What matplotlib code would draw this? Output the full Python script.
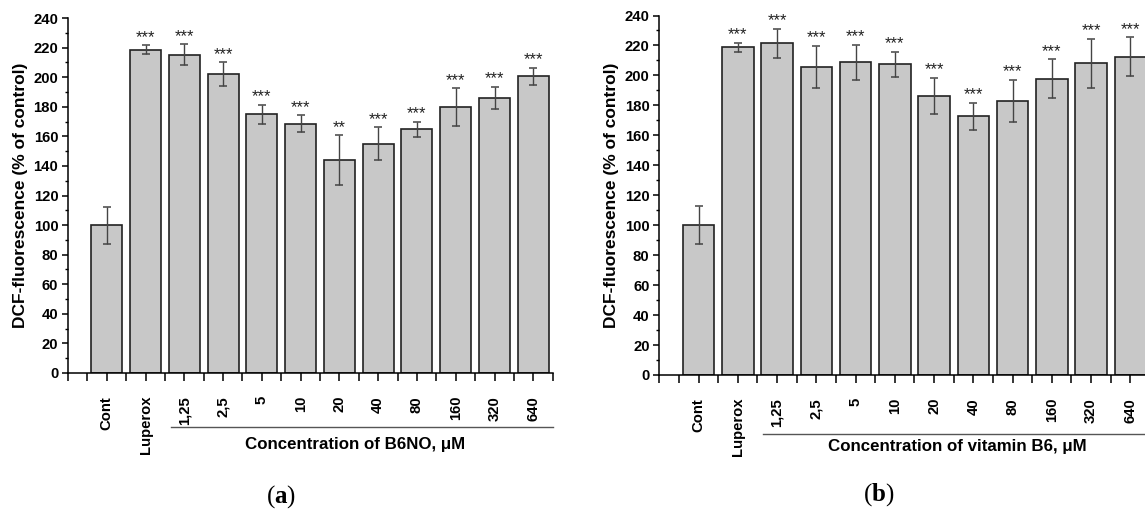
import matplotlib
matplotlib.use("Agg")
import matplotlib.pyplot as plt
import matplotlib.transforms as mtrans
import numpy as np

plt.rcParams['font.family'] = ['Liberation Sans', 'DejaVu Sans']
plt.rcParams['mathtext.fontset'] = 'custom'
plt.rcParams['mathtext.rm'] = 'Liberation Serif'
plt.rcParams['mathtext.bf'] = 'Liberation Serif:bold'

categories = ["Cont", "Luperox", "1,25", "2,5", "5", "10", "20", "40", "80", "160", "320", "640"]

b6no_values = [100, 218.6, 215.2, 202.0, 174.9, 168.6, 144.0, 155.0, 164.8, 179.6, 186.1, 200.6]
b6no_errors = [12.5, 3.0, 7.0, 8.1, 6.3, 5.5, 16.7, 11.0, 5.2, 12.8, 7.5, 5.6]
b6no_marks = ["", "***", "***", "***", "***", "***", "**", "***", "***", "***", "***", "***"]

vitb6_values = [100, 218.7, 221.6, 205.6, 208.7, 207.3, 186.3, 172.7, 182.9, 197.8, 208.1, 212.5]
vitb6_errors = [12.5, 3.0, 9.7, 14.0, 11.7, 8.5, 12.0, 9.0, 14.2, 13.0, 16.3, 12.9]
vitb6_marks = ["", "***", "***", "***", "***", "***", "***", "***", "***", "***", "***", "***"]

xlabels = ["Concentration of B6NO, \u03bcM", "Concentration of vitamin B6, \u03bcM"]
panel_tags = [r"$\mathrm{(}\mathbf{a}\mathrm{)}$", r"$\mathrm{(}\mathbf{b}\mathrm{)}$"]
ylabel = "DCF-fluorescence (% of control)"

W, H = 1145, 514
fig = plt.figure(figsize=(W / 100, H / 100), dpi=100)

def px_axes(l, r, t, b):
    return fig.add_axes([l / W, 1 - b / H, (r - l) / W, (b - t) / H])

axes = [px_axes(68, 552.7, 18, 373), px_axes(659.3, 1150, 15.5, 375)]
data = [(b6no_values, b6no_errors, b6no_marks), (vitb6_values, vitb6_errors, vitb6_marks)]
underline_y = [-0.152, -0.165]
xlabel_pos = [(355, 444), (957, 447)]
tag_pos = [(281, 497), (879, 495)]

for i, ax in enumerate(axes):
    vals, errs, marks = data[i]
    x = np.arange(len(categories))
    ax.bar(x, vals, width=0.8, color="#c8c8c8", edgecolor="#222222", linewidth=1.2, zorder=2)
    ax.errorbar(x, vals, yerr=errs, fmt="none", ecolor="#444444", elinewidth=1.0,
                capsize=3.2, capthick=1.1, zorder=3)
    for xi, v, e, m in zip(x, vals, errs, marks):
        if m:
            ax.annotate(m, (xi, v + e), xytext=(0, 2.5), textcoords="offset points",
                        ha="center", va="baseline", fontsize=12, color="#222222")
    ax.set_xlim(-1, 11.5)
    ax.set_ylim(0, 240)
    ax.set_yticks(np.arange(0, 241, 20))
    ax.set_yticks(np.arange(0, 241, 10), minor=True)
    ax.set_xticks(x)
    ax.set_xticklabels(categories, rotation=90, fontsize=10.7, fontweight="bold")
    ax.set_xticks(np.arange(-1, 11.6, 0.5), minor=True)
    for lab in ax.get_yticklabels():
        lab.set_fontweight("bold")
        lab.set_fontsize(10.7)
    ax.tick_params(axis="y", which="major", length=4.5, width=1.1, pad=2.5)
    ax.tick_params(axis="y", which="minor", length=2.3, width=1.0)
    ax.tick_params(axis="x", which="both", length=5.5, width=1.1, pad=11)
    for s in ["top", "right"]:
        ax.spines[s].set_visible(False)
    for s in ["left", "bottom"]:
        ax.spines[s].set_linewidth(1.1)
    ax.text(-0.097, 0.5, ylabel, transform=ax.transAxes, rotation=90, ha="center",
            va="center", fontsize=12.5, fontweight="bold")
    tr = mtrans.blended_transform_factory(ax.transData, ax.transAxes)
    ax.plot([1.65, 11.5], [underline_y[i], underline_y[i]], transform=tr, color="#555555",
            linewidth=1.0, clip_on=False)
    fig.text(xlabel_pos[i][0] / W, 1 - xlabel_pos[i][1] / H, xlabels[i], ha="center",
             va="center", fontsize=12.2, fontweight="bold")
    fig.text(tag_pos[i][0] / W, 1 - tag_pos[i][1] / H, panel_tags[i], ha="center",
             va="center", fontsize=18)

fig.savefig("out.png", dpi=100)
